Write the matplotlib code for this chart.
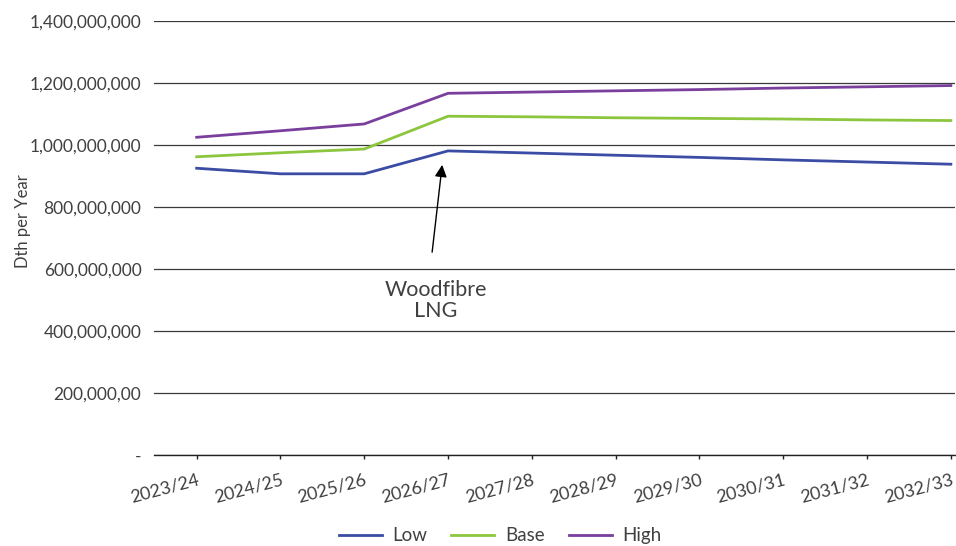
import matplotlib
matplotlib.use("Agg")
import matplotlib.pyplot as plt
from matplotlib.ticker import FixedLocator

years = ["2023/24", "2024/25", "2025/26", "2026/27", "2027/28",
         "2028/29", "2029/30", "2030/31", "2031/32", "2032/33"]
low = [926e6, 908e6, 908e6, 982e6, 975e6, 968e6, 961e6, 953e6, 946e6, 939e6]
base = [963e6, 976e6, 988e6, 1094e6, 1092e6, 1089e6, 1087e6, 1085e6, 1082e6, 1080e6]
high = [1026e6, 1047e6, 1069e6, 1168e6, 1172e6, 1176e6, 1180e6, 1185e6, 1189e6, 1193e6]

ytick_vals = [0, 200e6, 400e6, 600e6, 800e6, 1000e6, 1200e6, 1400e6]
ytick_labels = ["-", "200,000,00", "400,000,000", "600,000,000", "800,000,000",
                "1,000,000,000", "1,200,000,000", "1,400,000,000"]

plt.rcParams['font.family'] = ['Lato', 'DejaVu Sans']
txt = '#404040'

fig = plt.figure(figsize=(9.56, 5.46), dpi=100)
ax = fig.add_axes([0.161, 0.1667, 0.838, 0.794])

x = list(range(len(years)))
ax.plot(x, low, color='#3A4CA4', lw=2.0, label='Low', zorder=3)
ax.plot(x, base, color='#8CC63E', lw=2.0, label='Base', zorder=3)
ax.plot(x, high, color='#7A3F9D', lw=2.0, label='High', zorder=3)

ax.set_xlim(-0.51, 9.05)
ax.set_ylim(0, 1400e6)
ax.yaxis.set_major_locator(FixedLocator(ytick_vals))
ax.set_yticklabels(ytick_labels, fontsize=12.5, color=txt)
ax.tick_params(axis='y', length=0, pad=9)
ax.set_xticks(x)
ax.set_xticklabels(years, fontsize=13, color=txt, rotation=15, ha='right',
                   rotation_mode='anchor')
ax.tick_params(axis='x', length=3, width=1, color='#222222', pad=9, direction='out')
ax.grid(axis='y', color='#3a3a3a', lw=0.9)
ax.set_axisbelow(True)
for s in ['top', 'right', 'left']:
    ax.spines[s].set_visible(False)
ax.spines['bottom'].set_color('#222222')
ax.spines['bottom'].set_linewidth(1.0)

ax.set_ylabel('Dth per Year', fontsize=12, color=txt)
ax.yaxis.set_label_coords(-0.153, 0.54)

ax.annotate('', xy=(2.93, 937e6), xytext=(2.81, 655e6),
            arrowprops=dict(arrowstyle='-|>', color='black', lw=1.0,
                            mutation_scale=18, shrinkA=0, shrinkB=0))
ax.text(2.85, 500e6, 'Woodfibre\nLNG', ha='center', va='center', fontsize=15.5,
        color=txt, linespacing=1.05)

leg = fig.legend(loc='lower center', ncol=3, frameon=False, fontsize=13.5,
                 bbox_to_anchor=(0.523, -0.028), handlelength=2.3,
                 columnspacing=1.3, handletextpad=0.55, labelcolor=txt)

fig.savefig('out.png', dpi=100)
